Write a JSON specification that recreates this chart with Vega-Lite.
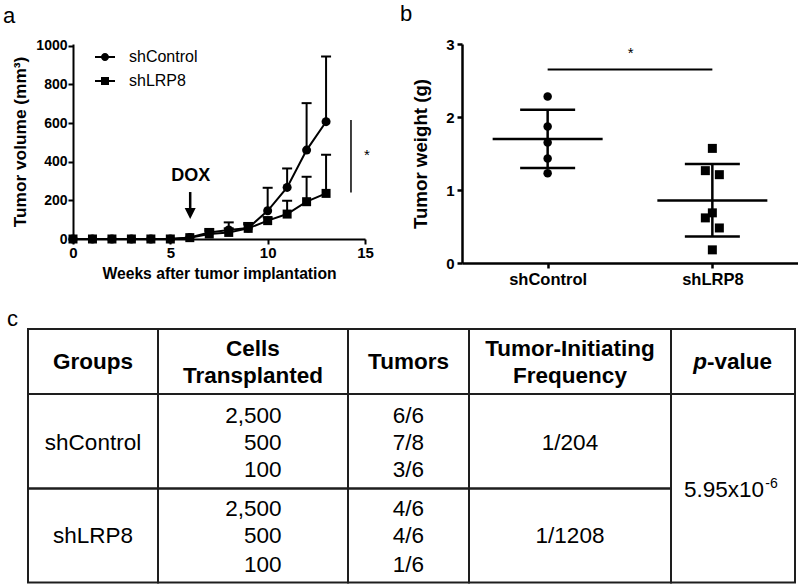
{
  "$schema": "https://vega.github.io/schema/vega-lite/v6.json",
  "background": "white",
  "padding": {"left": 3, "top": 3, "right": 0, "bottom": 0},
  "bounds": "full",
  "spacing": 20,
  "datasets": {
    "growth": [
      {"group": "shControl", "week": 0, "mean": 0},
      {"group": "shControl", "week": 1, "mean": 0},
      {"group": "shControl", "week": 2, "mean": 0},
      {"group": "shControl", "week": 3, "mean": 0},
      {"group": "shControl", "week": 4, "mean": 0},
      {"group": "shControl", "week": 5, "mean": 0},
      {"group": "shControl", "week": 6, "mean": 8},
      {"group": "shControl", "week": 7, "mean": 34, "upper": 52},
      {"group": "shControl", "week": 8, "mean": 47, "upper": 86},
      {"group": "shControl", "week": 9, "mean": 57, "upper": 83},
      {"group": "shControl", "week": 10, "mean": 146, "upper": 265},
      {"group": "shControl", "week": 11, "mean": 267, "upper": 365},
      {"group": "shControl", "week": 12, "mean": 460, "upper": 703},
      {"group": "shControl", "week": 13, "mean": 607, "upper": 944},
      {"group": "shLRP8", "week": 0, "mean": 0},
      {"group": "shLRP8", "week": 1, "mean": 0},
      {"group": "shLRP8", "week": 2, "mean": 0},
      {"group": "shLRP8", "week": 3, "mean": 0},
      {"group": "shLRP8", "week": 4, "mean": 0},
      {"group": "shLRP8", "week": 5, "mean": 0},
      {"group": "shLRP8", "week": 6, "mean": 7},
      {"group": "shLRP8", "week": 7, "mean": 26, "upper": 42},
      {"group": "shLRP8", "week": 8, "mean": 34, "upper": 55},
      {"group": "shLRP8", "week": 9, "mean": 55, "upper": 75},
      {"group": "shLRP8", "week": 10, "mean": 95, "upper": 112},
      {"group": "shLRP8", "week": 11, "mean": 129, "upper": 198},
      {"group": "shLRP8", "week": 12, "mean": 193, "upper": 322},
      {"group": "shLRP8", "week": 13, "mean": 236, "upper": 436}
    ],
    "weights": [
      {"group": "shControl", "weight": 2.28, "jit": 0},
      {"group": "shControl", "weight": 1.87, "jit": 0},
      {"group": "shControl", "weight": 1.65, "jit": 0},
      {"group": "shControl", "weight": 1.43, "jit": 0},
      {"group": "shControl", "weight": 1.23, "jit": 0},
      {"group": "shLRP8", "weight": 1.57, "jit": 0},
      {"group": "shLRP8", "weight": 1.265, "jit": -1},
      {"group": "shLRP8", "weight": 1.21, "jit": 1},
      {"group": "shLRP8", "weight": 0.687, "jit": 0},
      {"group": "shLRP8", "weight": 0.618, "jit": -1},
      {"group": "shLRP8", "weight": 0.48, "jit": 1},
      {"group": "shLRP8", "weight": 0.18, "jit": 0}
    ],
    "stats": [
      {"group": "shControl", "mean": 1.70, "lo": 1.30, "hi": 2.10},
      {"group": "shLRP8", "mean": 0.855, "lo": 0.362, "hi": 1.357}
    ],
    "cells": [
      {"c0": 0, "c1": 1, "r0": 0, "r1": 1},
      {"c0": 1, "c1": 2, "r0": 0, "r1": 1},
      {"c0": 2, "c1": 3, "r0": 0, "r1": 1},
      {"c0": 3, "c1": 4, "r0": 0, "r1": 1},
      {"c0": 4, "c1": 5, "r0": 0, "r1": 1},
      {"c0": 0, "c1": 1, "r0": 1, "r1": 2},
      {"c0": 1, "c1": 2, "r0": 1, "r1": 2},
      {"c0": 2, "c1": 3, "r0": 1, "r1": 2},
      {"c0": 3, "c1": 4, "r0": 1, "r1": 2},
      {"c0": 0, "c1": 1, "r0": 2, "r1": 3},
      {"c0": 1, "c1": 2, "r0": 2, "r1": 3},
      {"c0": 2, "c1": 3, "r0": 2, "r1": 3},
      {"c0": 3, "c1": 4, "r0": 2, "r1": 3},
      {"c0": 4, "c1": 5, "r0": 1, "r1": 3}
    ],
    "tableHeader": [
      {"t": "Groups", "x": 0.5, "y": 0.51},
      {"t": "Cells", "x": 1.5, "y": 0.3},
      {"t": "Transplanted", "x": 1.5, "y": 0.72},
      {"t": "Tumors", "x": 2.5, "y": 0.51},
      {"t": "Tumor-Initiating", "x": 3.5, "y": 0.3},
      {"t": "Frequency", "x": 3.5, "y": 0.72}
    ],
    "tableBody": [
      {"t": "shControl", "x": 0.5, "y": 1.52},
      {"t": "shLRP8", "x": 0.5, "y": 2.51},
      {"t": "6/6", "x": 2.5, "y": 1.23},
      {"t": "7/8", "x": 2.5, "y": 1.52},
      {"t": "3/6", "x": 2.5, "y": 1.81},
      {"t": "4/6", "x": 2.5, "y": 2.22},
      {"t": "4/6", "x": 2.5, "y": 2.51},
      {"t": "1/6", "x": 2.5, "y": 2.81},
      {"t": "1/204", "x": 3.5, "y": 1.52},
      {"t": "1/1208", "x": 3.5, "y": 2.51}
    ],
    "tableCells": [
      {"t": "2,500", "x": 1.65, "y": 1.23},
      {"t": "500", "x": 1.65, "y": 1.52},
      {"t": "100", "x": 1.65, "y": 1.81},
      {"t": "2,500", "x": 1.65, "y": 2.22},
      {"t": "500", "x": 1.65, "y": 2.51},
      {"t": "100", "x": 1.65, "y": 2.81}
    ]
  },
  "vconcat": [
    {
      "bounds": "flush",
      "spacing": 97,
      "hconcat": [
        {
          "width": 292,
          "height": 195,
          "title": {"text": "a", "dx": -70, "offset": 10.5},
          "layer": [
            {
              "data": {"name": "growth"},
              "mark": {"type": "line", "color": "black", "strokeWidth": 2},
              "encoding": {
                "x": {"field": "week", "type": "quantitative", "scale": {"domain": [0, 15], "nice": false},
                  "axis": {"values": [0, 5, 10, 15], "tickCount": 10, "title": "Weeks after tumor implantation", "labelFontSize": 15, "titleFontSize": 15.7, "labelPadding": 1, "titlePadding": 6}},
                "y": {"field": "mean", "type": "quantitative", "scale": {"domain": [0, 1009], "nice": false},
                  "axis": {"values": [0, 200, 400, 600, 800, 1000], "tickCount": 12, "format": "d", "title": "Tumor volume (mm³)", "labelFontSize": 14, "titleFontSize": 17.3, "tickSize": 5, "labelPadding": 1, "titlePadding": 6.5}},
                "detail": {"field": "group", "type": "nominal"}
              }
            },
            {
              "data": {"name": "growth"},
              "transform": [{"filter": "isValid(datum.upper)"}],
              "mark": {"type": "rule", "color": "black", "strokeWidth": 2},
              "encoding": {
                "x": {"field": "week", "type": "quantitative"},
                "y": {"field": "mean", "type": "quantitative"},
                "y2": {"field": "upper"}
              }
            },
            {
              "data": {"name": "growth"},
              "transform": [{"filter": "isValid(datum.upper)"}],
              "mark": {"type": "tick", "orient": "horizontal", "color": "black", "size": 10, "thickness": 2, "opacity": 1},
              "encoding": {
                "x": {"field": "week", "type": "quantitative"},
                "y": {"field": "upper", "type": "quantitative"}
              }
            },
            {
              "data": {"name": "growth"},
              "mark": {"type": "point", "filled": true, "color": "black", "size": 64, "opacity": 0},
              "encoding": {
                "x": {"field": "week", "type": "quantitative"},
                "y": {"field": "mean", "type": "quantitative"},
                "shape": {
                  "field": "group", "type": "nominal",
                  "scale": {"domain": ["shControl", "shLRP8"], "range": ["M-2.5,-0.25H2.5V0.25H-2.5ZM-1,0A1,1,0,1,1,1,0A1,1,0,1,1,-1,0Z", "M-2.5,-0.25H2.5V0.25H-2.5ZM-1,-1H1V1H-1Z"]},
                  "legend": {
                    "title": null, "orient": "none", "legendX": 24, "legendY": 5, "padding": 0,
                    "labelFontSize": 16, "labelColor": "black", "labelOffset": 16, "rowPadding": 8,
                    "symbolSize": 64, "symbolOpacity": 1, "symbolFillColor": "black", "symbolStrokeWidth": 0
                  }
                }
              }
            },
            {
              "data": {"name": "growth"},
              "transform": [{"filter": "datum.group == 'shControl'"}],
              "mark": {"type": "point", "shape": "circle", "filled": true, "color": "black", "size": 81, "opacity": 1},
              "encoding": {
                "x": {"field": "week", "type": "quantitative"},
                "y": {"field": "mean", "type": "quantitative"}
              }
            },
            {
              "data": {"name": "growth"},
              "transform": [{"filter": "datum.group == 'shLRP8'"}],
              "mark": {"type": "point", "shape": "square", "filled": true, "color": "black", "size": 81, "opacity": 1},
              "encoding": {
                "x": {"field": "week", "type": "quantitative"},
                "y": {"field": "mean", "type": "quantitative"}
              }
            },
            {
              "data": {"values": [{"x": 14.28, "y": 240, "y2": 616}]},
              "mark": {"type": "rule", "color": "black", "strokeWidth": 1.5},
              "encoding": {
                "x": {"field": "x", "type": "quantitative"},
                "y": {"field": "y", "type": "quantitative"},
                "y2": {"field": "y2"}
              }
            },
            {
              "data": {"values": [{"x": 15.1, "y": 436, "t": "*"}]},
              "mark": {"type": "text", "fontSize": 15, "color": "black", "baseline": "middle", "align": "center"},
              "encoding": {
                "x": {"field": "x", "type": "quantitative"},
                "y": {"field": "y", "type": "quantitative"},
                "text": {"field": "t"}
              }
            },
            {
              "data": {"values": [{"x": 6.05, "y": 327, "t": "DOX"}]},
              "mark": {"type": "text", "fontSize": 18, "fontWeight": "bold", "color": "black", "baseline": "middle", "align": "center"},
              "encoding": {
                "x": {"field": "x", "type": "quantitative"},
                "y": {"field": "y", "type": "quantitative"},
                "text": {"field": "t"}
              }
            },
            {
              "data": {"values": [{"x": 6.02, "y": 243, "y2": 158}]},
              "mark": {"type": "rule", "color": "black", "strokeWidth": 2.5},
              "encoding": {
                "x": {"field": "x", "type": "quantitative"},
                "y": {"field": "y", "type": "quantitative"},
                "y2": {"field": "y2"}
              }
            },
            {
              "data": {"values": [{"x": 6.02, "y": 135}]},
              "mark": {"type": "point", "filled": true, "color": "black", "size": 121, "opacity": 1, "shape": "M-1,-0.9L1,-0.9L0,1.1Z"},
              "encoding": {
                "x": {"field": "x", "type": "quantitative"},
                "y": {"field": "y", "type": "quantitative"}
              }
            }
          ]
        },
        {
          "width": 336,
          "height": 219,
          "title": {"text": "b", "dx": -62, "offset": 11},
          "layer": [
            {
              "data": {"name": "stats"},
              "mark": {"type": "tick", "orient": "horizontal", "size": 110, "thickness": 2.5, "color": "black", "opacity": 1},
              "encoding": {
                "x": {"field": "group", "type": "nominal", "scale": {"type": "point", "domain": ["shControl", "shLRP8"], "padding": 0.52},
                  "axis": {"title": null, "labelAngle": 0, "labelFontSize": 16.5, "labelPadding": 3, "domainWidth": 2.5, "tickWidth": 2.5}},
                "y": {"field": "mean", "type": "quantitative", "scale": {"domain": [0, 3], "nice": false},
                  "axis": {"values": [0, 1, 2, 3], "tickCount": 10, "format": "d", "title": "Tumor weight (g)", "labelFontSize": 15, "titleFontSize": 18.7, "labelPadding": 3, "titlePadding": 15, "domainWidth": 2.5, "tickWidth": 2.5}}
              }
            },
            {
              "data": {"name": "stats"},
              "mark": {"type": "tick", "orient": "horizontal", "size": 55, "thickness": 2.5, "color": "black", "opacity": 1},
              "encoding": {
                "x": {"field": "group", "type": "nominal"},
                "y": {"field": "hi", "type": "quantitative"}
              }
            },
            {
              "data": {"name": "stats"},
              "mark": {"type": "tick", "orient": "horizontal", "size": 55, "thickness": 2.5, "color": "black", "opacity": 1},
              "encoding": {
                "x": {"field": "group", "type": "nominal"},
                "y": {"field": "lo", "type": "quantitative"}
              }
            },
            {
              "data": {"name": "stats"},
              "mark": {"type": "rule", "strokeWidth": 2.5, "color": "black"},
              "encoding": {
                "x": {"field": "group", "type": "nominal"},
                "y": {"field": "lo", "type": "quantitative"},
                "y2": {"field": "hi"}
              }
            },
            {
              "data": {"values": [{"a": "shControl", "b": "shLRP8", "y": 2.65}]},
              "mark": {"type": "rule", "strokeWidth": 2, "color": "black"},
              "encoding": {
                "x": {"field": "a", "type": "nominal"},
                "x2": {"field": "b"},
                "y": {"field": "y", "type": "quantitative"}
              }
            },
            {
              "data": {"values": [{"a": "shControl", "y": 2.88, "t": "*"}]},
              "mark": {"type": "text", "fontSize": 15, "color": "black", "baseline": "middle", "align": "center", "dx": 83},
              "encoding": {
                "x": {"field": "a", "type": "nominal"},
                "y": {"field": "y", "type": "quantitative"},
                "text": {"field": "t"}
              }
            },
            {
              "data": {"name": "weights"},
              "transform": [{"filter": "datum.group == 'shControl'"}],
              "mark": {"type": "point", "shape": "circle", "filled": true, "color": "black", "size": 72, "opacity": 1},
              "encoding": {
                "x": {"field": "group", "type": "nominal"},
                "y": {"field": "weight", "type": "quantitative"}
              }
            },
            {
              "data": {"name": "weights"},
              "transform": [{"filter": "datum.group == 'shLRP8'"}],
              "mark": {"type": "point", "shape": "square", "filled": true, "color": "black", "size": 81, "opacity": 1},
              "encoding": {
                "x": {"field": "group", "type": "nominal"},
                "xOffset": {"field": "jit", "type": "quantitative", "scale": {"domain": [-1, 1], "range": [-7, 7]}},
                "y": {"field": "weight", "type": "quantitative"}
              }
            }
          ]
        }
      ]
    },
    {
      "width": 722,
      "height": 254,
      "title": {"text": "c", "dx": -66, "dy": 13},
      "layer": [
        {
          "data": {"name": "cells"},
          "mark": {"type": "rect", "filled": false, "color": "#1e1e1e", "strokeWidth": 2},
          "encoding": {
            "x": {"field": "c0", "type": "quantitative", "scale": {"domain": [0, 1, 2, 3, 4, 5], "range": [-45, 85, 275, 396, 598, 722], "nice": false, "zero": false}, "axis": null},
            "x2": {"field": "c1"},
            "y": {"field": "r0", "type": "quantitative", "scale": {"domain": [0, 1, 2, 3], "range": [0, 65, 159.4, 253.4], "nice": false, "zero": false}, "axis": null},
            "y2": {"field": "r1"}
          }
        },
        {
          "data": {"name": "tableHeader"},
          "mark": {"type": "text", "fontSize": 22.5, "fontWeight": "bold", "color": "black", "align": "center", "baseline": "middle"},
          "encoding": {
            "x": {"field": "x", "type": "quantitative", "axis": null},
            "y": {"field": "y", "type": "quantitative", "axis": null},
            "text": {"field": "t"}
          }
        },
        {
          "data": {"values": [{"t": "p", "x": 4.29, "y": 0.51}]},
          "mark": {"type": "text", "fontSize": 22.5, "fontWeight": "bold", "fontStyle": "italic", "color": "black", "align": "right", "baseline": "middle"},
          "encoding": {
            "x": {"field": "x", "type": "quantitative", "axis": null},
            "y": {"field": "y", "type": "quantitative", "axis": null},
            "text": {"field": "t"}
          }
        },
        {
          "data": {"values": [{"t": "-value", "x": 4.29, "y": 0.51}]},
          "mark": {"type": "text", "fontSize": 22.5, "fontWeight": "bold", "color": "black", "align": "left", "baseline": "middle"},
          "encoding": {
            "x": {"field": "x", "type": "quantitative", "axis": null},
            "y": {"field": "y", "type": "quantitative", "axis": null},
            "text": {"field": "t"}
          }
        },
        {
          "data": {"name": "tableBody"},
          "mark": {"type": "text", "fontSize": 22.5, "color": "black", "align": "center", "baseline": "middle"},
          "encoding": {
            "x": {"field": "x", "type": "quantitative", "axis": null},
            "y": {"field": "y", "type": "quantitative", "axis": null},
            "text": {"field": "t"}
          }
        },
        {
          "data": {"name": "tableCells"},
          "mark": {"type": "text", "fontSize": 22.5, "color": "black", "align": "right", "baseline": "middle"},
          "encoding": {
            "x": {"field": "x", "type": "quantitative", "axis": null},
            "y": {"field": "y", "type": "quantitative", "axis": null},
            "text": {"field": "t"}
          }
        },
        {
          "data": {"values": [{"t": "5.95x10", "x": 4.75, "y": 2.02}]},
          "mark": {"type": "text", "fontSize": 22.5, "color": "black", "align": "right", "baseline": "middle"},
          "encoding": {
            "x": {"field": "x", "type": "quantitative", "axis": null},
            "y": {"field": "y", "type": "quantitative", "axis": null},
            "text": {"field": "t"}
          }
        },
        {
          "data": {"values": [{"t": "-6", "x": 4.76, "y": 1.95}]},
          "mark": {"type": "text", "fontSize": 14, "color": "black", "align": "left", "baseline": "middle"},
          "encoding": {
            "x": {"field": "x", "type": "quantitative", "axis": null},
            "y": {"field": "y", "type": "quantitative", "axis": null},
            "text": {"field": "t"}
          }
        }
      ]
    }
  ],
  "config": {
    "font": "Liberation Sans",
    "view": {"stroke": null},
    "axis": {
      "domainColor": "black", "tickColor": "black", "labelColor": "black", "titleColor": "black",
      "grid": false, "labelFontWeight": "bold", "titleFontWeight": "bold",
      "domainWidth": 2, "tickWidth": 2, "tickSize": 5, "labelFont": "Liberation Sans", "titleFont": "Liberation Sans",
      "labelOverlap": false, "labelFlush": false
    },
    "legend": {"labelFont": "Liberation Sans"},
    "title": {"fontSize": 22, "fontWeight": "normal", "anchor": "start", "frame": "group", "color": "black", "font": "Liberation Sans", "offset": 10}
  }
}
